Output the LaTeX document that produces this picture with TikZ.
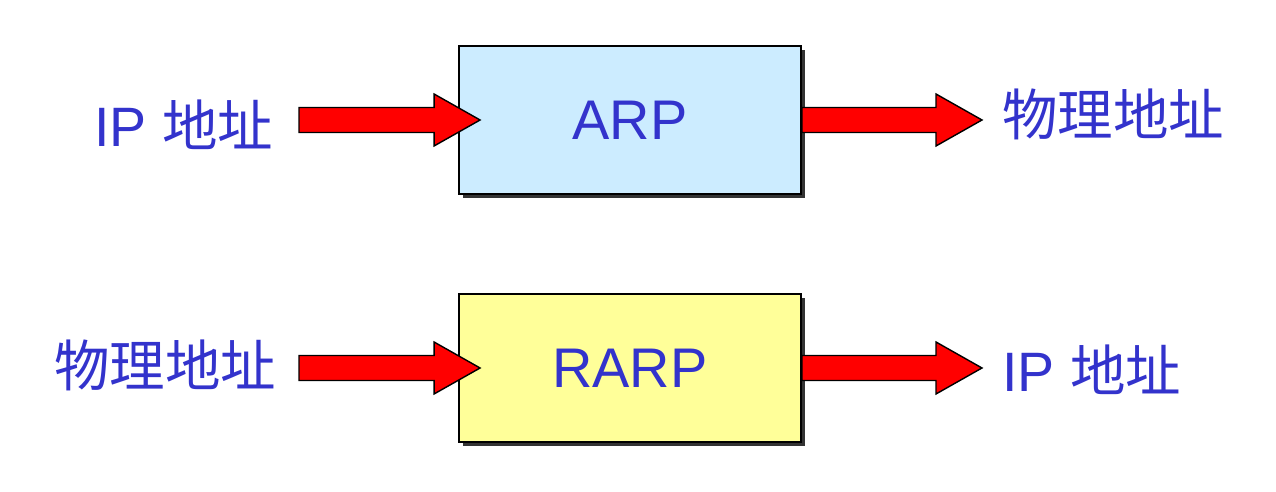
\documentclass[tikz,border=0pt]{standalone}
\usepackage{fontspec}
\setmainfont{Liberation Sans}
\newfontfamily\cjk{Noto Sans CJK SC}
\usepackage{xcolor}
\usetikzlibrary{positioning,calc,shadows}
\definecolor{labelblue}{RGB}{51,51,204}
\definecolor{arpblue}{RGB}{204,236,255}
\definecolor{rarpyellow}{RGB}{255,255,153}
\tikzset{
    proto/.style={draw, line width=1.1pt, minimum width=6.84cm, minimum height=2.96cm,
        font=\fontsize{31.8}{32}\selectfont, text=labelblue,
        drop shadow={shadow xshift=0.08cm, shadow yshift=-0.08cm, fill=black!80, opacity=1}},
    addr/.style={font=\fontsize{31.6}{32}\selectfont, text=labelblue, inner sep=0pt},
    fatarrow/.style={draw=black, fill=red, line width=0.8pt, line join=miter}
}
\newcommand{\bigarrow}[2]{%
    \draw[fatarrow] ($(#1)+(0,-12.5)$) -- ($(#2)+(-46,-12.5)$) -- ($(#2)+(-46,-26)$)
        -- (#2) -- ($(#2)+(-46,26)$) -- ($(#2)+(-46,12.5)$) -- ($(#1)+(0,12.5)$) -- cycle;}

\begin{document}
\begin{tikzpicture}[x=0.02cm, y=-0.02cm]
    \useasboundingbox (0,0) rectangle (1276,492);

    % Boxes
    \node[proto, fill=arpblue] (arp) at (630,120) {ARP};
    \node[proto, fill=rarpyellow] (rarp) at (630,368) {RARP};

    % Addresses
    \node[addr, anchor=base west] (ipA) at (94,147) {IP {\cjk 地址}};
    \node[addr, anchor=base west] (physA) at (1002,136) {\cjk 物理地址};
    \node[addr, anchor=base west] (physB) at (54,387) {\cjk 物理地址};
    \node[addr, anchor=base west] (ipB) at (1002,392) {IP {\cjk 地址}};

    % Arrow ends
    \coordinate (inA) at (299,120);
    \coordinate (tipA) at ($(arp.west)+(22,0)$);
    \coordinate (outA) at (arp.east);
    \coordinate (endA) at (982,120);
    \coordinate (inB) at (299,368);
    \coordinate (tipB) at ($(rarp.west)+(22,0)$);
    \coordinate (outB) at (rarp.east);
    \coordinate (endB) at (982,368);

    % Arrows
    \bigarrow{inA}{tipA}
    \bigarrow{outA}{endA}
    \bigarrow{inB}{tipB}
    \bigarrow{outB}{endB}
\end{tikzpicture}
\end{document}
